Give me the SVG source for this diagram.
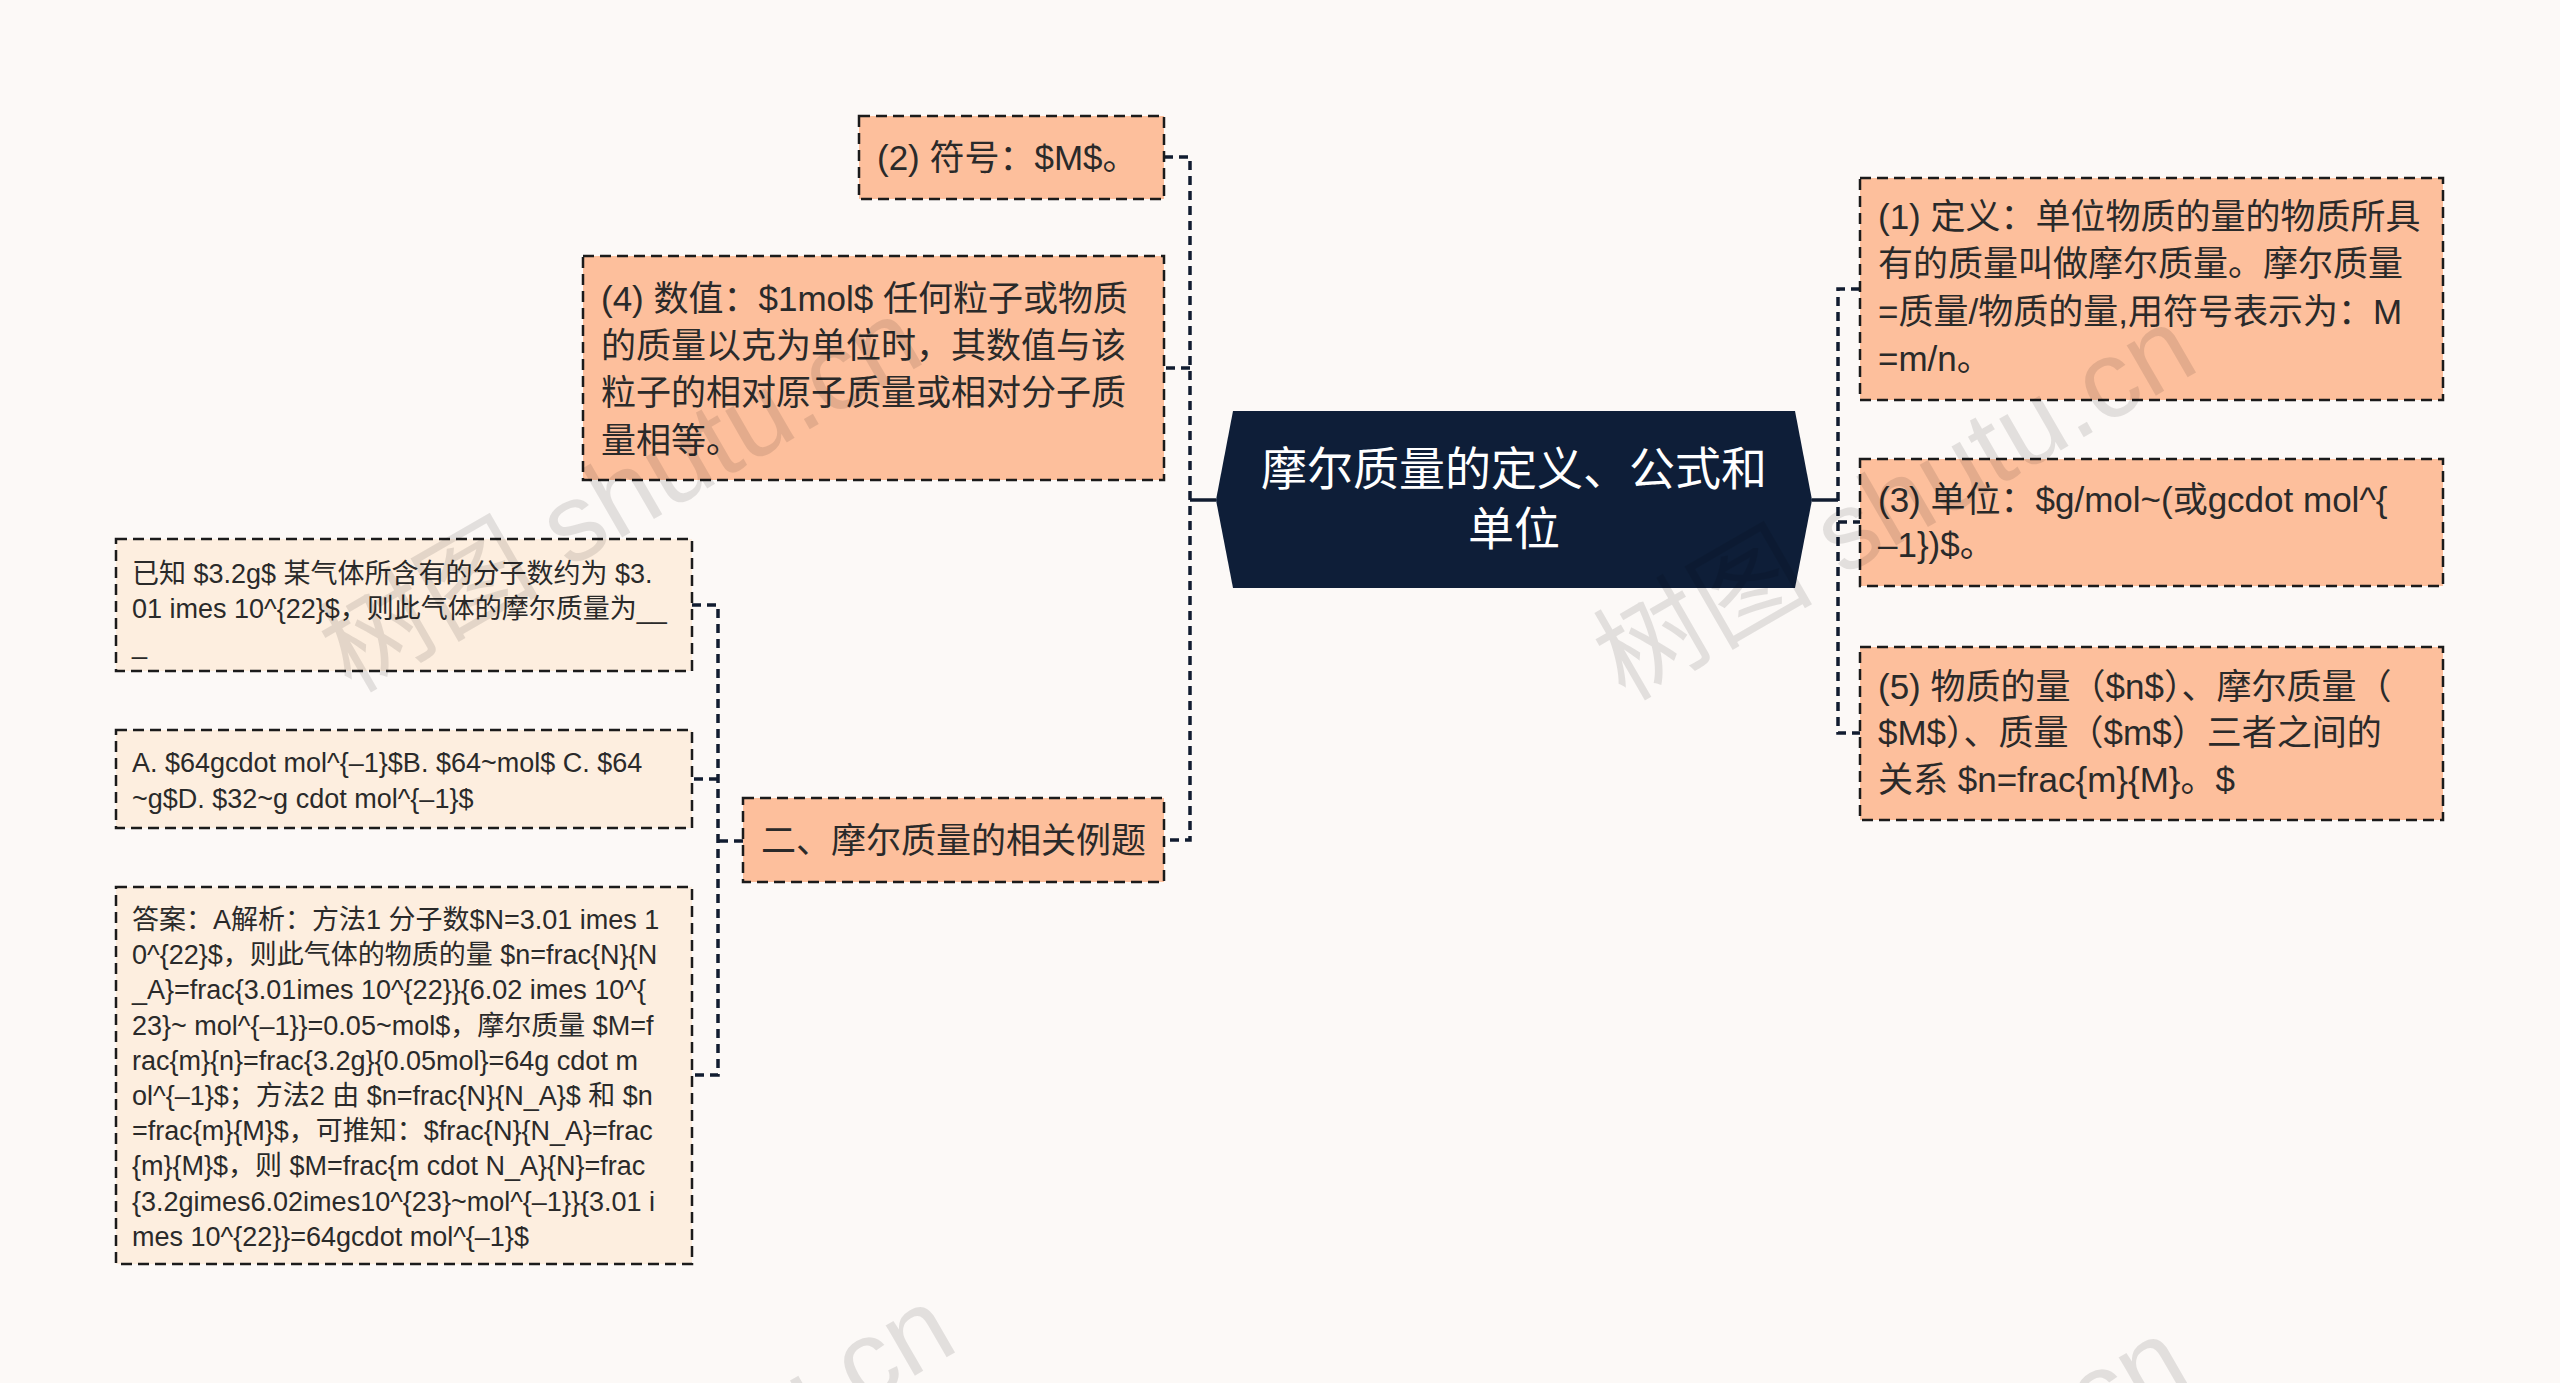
<svg xmlns="http://www.w3.org/2000/svg" width="2560" height="1383" viewBox="0 0 2560 1383">
<style>
text{font-family:"Liberation Sans","Noto Sans CJK SC",sans-serif;fill:#2a2a2a}
.box{fill:#fdbf9c;stroke:#1b1b1b;stroke-width:2.5;stroke-dasharray:11 6}
.leaf{fill:#fdeedf;stroke:#1b1b1b;stroke-width:2.5;stroke-dasharray:11 6}
.t35{font-size:35px}
.t27{font-size:27px}
.ctr{font-size:46px;fill:#ffffff;text-anchor:middle}
.dash{fill:none;stroke:#111c30;stroke-width:3.5;stroke-dasharray:9 6}
.solid{fill:none;stroke:#111c30;stroke-width:3.5}
.wm{font-size:110px;fill:#000;fill-opacity:0.10}
</style>
<rect width="2560" height="1383" fill="#fcf9f7"/>

<g id="connectors">
<path class="solid" d="M1216,500 H1190"/>
<path class="dash" d="M1164,157 H1190 V840 H1164"/>
<path class="dash" d="M1190,368 H1164"/>
<path class="solid" d="M1812,500 H1838"/>
<path class="dash" d="M1860,289 H1838 V733 H1860"/>
<path class="dash" d="M1838,522 H1860"/>
<path class="dash" d="M743,841 H718"/>
<path class="dash" d="M692,605 H718 V1075 H692"/>
<path class="dash" d="M718,779 H692"/>
</g>

<g id="center">
<polygon points="1216,500 1233,411 1795,411 1812,500 1795,588 1233,588" fill="#0e1e38"/>
<text class="ctr" x="1514" y="485">摩尔质量的定义、公式和</text>
<text class="ctr" x="1514" y="545">单位</text>
</g>

<g id="n2">
<rect class="box" x="859" y="116" width="305" height="83"/>
<text class="t35" x="877" y="170">(2) 符号：$M$。</text>
</g>

<g id="n4">
<rect class="box" x="583" y="256" width="581" height="224"/>
<text class="t35" x="601" y="311">(4) 数值：$1mol$ 任何粒子或物质</text>
<text class="t35" x="601" y="358">的质量以克为单位时，其数值与该</text>
<text class="t35" x="601" y="405">粒子的相对原子质量或相对分子质</text>
<text class="t35" x="601" y="453">量相等。</text>
</g>

<g id="n_ex">
<rect class="box" x="743" y="798" width="421" height="84"/>
<text class="t35" x="761" y="853">二、摩尔质量的相关例题</text>
</g>

<g id="n1">
<rect class="box" x="1860" y="178" width="583" height="222"/>
<text class="t35" x="1878" y="229">(1) 定义：单位物质的量的物质所具</text>
<text class="t35" x="1878" y="276">有的质量叫做摩尔质量。摩尔质量</text>
<text class="t35" x="1878" y="324">=质量/物质的量,用符号表示为：M</text>
<text class="t35" x="1878" y="371">=m/n。</text>
</g>

<g id="n3">
<rect class="box" x="1860" y="459" width="583" height="127"/>
<text class="t35" x="1878" y="512">(3) 单位：$g/mol~(或gcdot mol^{</text>
<text class="t35" x="1878" y="557">–1})$。</text>
</g>

<g id="n5">
<rect class="box" x="1860" y="647" width="583" height="173"/>
<text class="t35" x="1878" y="699">(5) 物质的量（$n$）、摩尔质量（</text>
<text class="t35" x="1878" y="745">$M$）、质量（$m$）三者之间的</text>
<text class="t35" x="1878" y="792">关系 $n=frac{m}{M}。$</text>
</g>

<g id="q">
<rect class="leaf" x="116" y="539" width="576" height="132"/>
<text class="t27" x="132" y="583">已知 $3.2g$ 某气体所含有的分子数约为 $3.</text>
<text class="t27" x="132" y="618">01 imes 10^{22}$，则此气体的摩尔质量为__</text>
<text class="t27" x="132" y="653">_</text>
</g>

<g id="opts">
<rect class="leaf" x="116" y="730" width="576" height="98"/>
<text class="t27" x="132" y="772">A. $64gcdot mol^{–1}$B. $64~mol$ C. $64</text>
<text class="t27" x="132" y="808">~g$D. $32~g cdot mol^{–1}$</text>
</g>

<g id="ans">
<rect class="leaf" x="116" y="887" width="576" height="377"/>
<text class="t27" x="132" y="929">答案：A解析：方法1 分子数$N=3.01 imes 1</text>
<text class="t27" x="132" y="964">0^{22}$，则此气体的物质的量 $n=frac{N}{N</text>
<text class="t27" x="132" y="999">_A}=frac{3.01imes 10^{22}}{6.02 imes 10^{</text>
<text class="t27" x="132" y="1035">23}~ mol^{–1}}=0.05~mol$，摩尔质量 $M=f</text>
<text class="t27" x="132" y="1070">rac{m}{n}=frac{3.2g}{0.05mol}=64g cdot m</text>
<text class="t27" x="132" y="1105">ol^{–1}$；方法2 由 $n=frac{N}{N_A}$ 和 $n</text>
<text class="t27" x="132" y="1140">=frac{m}{M}$，可推知：$frac{N}{N_A}=frac</text>
<text class="t27" x="132" y="1175">{m}{M}$，则 $M=frac{m cdot N_A}{N}=frac</text>
<text class="t27" x="132" y="1211">{3.2gimes6.02imes10^{23}~mol^{–1}}{3.01 i</text>
<text class="t27" x="132" y="1246">mes 10^{22}}=64gcdot mol^{–1}$</text>
</g>

<g id="watermarks">
<text class="wm" transform="translate(351,694) rotate(-30)">树图 shutu.cn</text>
<text class="wm" transform="translate(1625,702) rotate(-30)">树图 shutu.cn</text>
<text class="wm" transform="translate(384,1682) rotate(-30)">树图 shutu.cn</text>
<text class="wm" transform="translate(1617,1714) rotate(-30)">树图 shutu.cn</text>
</g>
</svg>
